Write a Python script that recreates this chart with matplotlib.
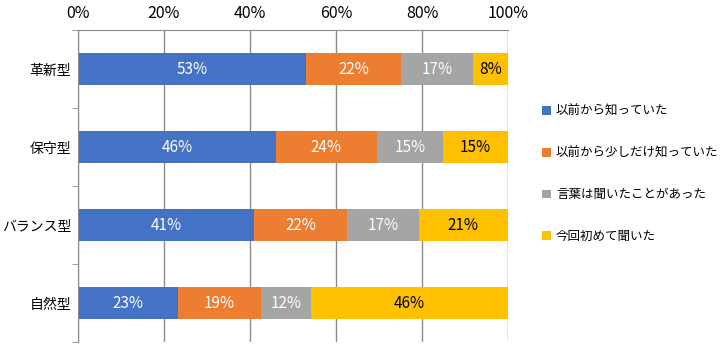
import matplotlib
matplotlib.use('Agg')
import numpy as np
import matplotlib.pyplot as plt

plt.rcParams["font.family"] = ["Noto Sans CJK JP", "DejaVu Sans"]

# ----------------------
# データ（%）
# ----------------------
categories = ["革新型", "保守型", "バランス型", "自然型"]
series_names = ["以前から知っていた", "以前から少しだけ知っていた",
                "言葉は聞いたことがあった", "今回初めて聞いた"]
knew_before = [53.0, 46.0, 40.9, 23.3]
knew_little = [22.1, 23.5, 21.7, 19.3]
heard_word = [16.8, 15.3, 16.6, 11.6]
first_time = [8.1, 15.1, 20.8, 45.8]
series_values = [knew_before, knew_little, heard_word, first_time]

colors = ["#4472C4", "#ED7D31", "#A5A5A5", "#FFC000"]
text_colors = ["white", "white", "white", "black"]
grid_color = "#8C8C8C"

# ----------------------
# 描画
# ----------------------
fig = plt.figure(figsize=(7.26, 3.54), dpi=100)
ax = fig.add_axes([78 / 726, 1 - 342 / 354, 430 / 726, 312 / 354])

y = np.arange(len(categories))
left = np.zeros(len(categories))
handles = []
for name, vals, c, tc in zip(series_names, series_values, colors, text_colors):
    vals = np.array(vals)
    bars = ax.barh(y, vals, left=left, height=0.4, color=c, label=name)
    handles.append(bars)
    for yi, l, v in zip(y, left, vals):
        ax.text(l + v / 2, yi, f"{v:.0f}%", ha="center", va="center",
                color=tc, fontsize=11)
    left += vals

ax.set_xlim(0, 100)
ax.set_ylim(len(categories) - 0.5, -0.5)
ax.set_xticks(np.arange(0, 101, 20))
ax.set_xticklabels([f"{v}%" for v in range(0, 101, 20)], fontsize=11.5)
ax.xaxis.tick_top()
ax.tick_params(axis="x", length=0, pad=6)
ax.grid(axis="x", color=grid_color, linewidth=1)
ax.set_axisbelow(True)

ax.set_yticks(y)
ax.set_yticklabels(categories, fontsize=10)
ax.set_yticks(np.arange(-0.5, len(categories), 1), minor=True)
ax.tick_params(axis="y", which="major", length=0, pad=5)
ax.tick_params(axis="y", which="minor", length=4, color=grid_color)

for s in ["right", "bottom"]:
    ax.spines[s].set_visible(False)
ax.spines["left"].set_color(grid_color)
ax.spines["top"].set_color(grid_color)

fig.legend(handles=handles, labels=series_names, loc="center left",
           bbox_to_anchor=(531 / 726, 1 - 174 / 354), frameon=False,
           fontsize=9, handlelength=0.7, handleheight=0.7, handletextpad=0.4,
           labelspacing=2.3)

fig.savefig("out.png", dpi=100)
plt.close()
